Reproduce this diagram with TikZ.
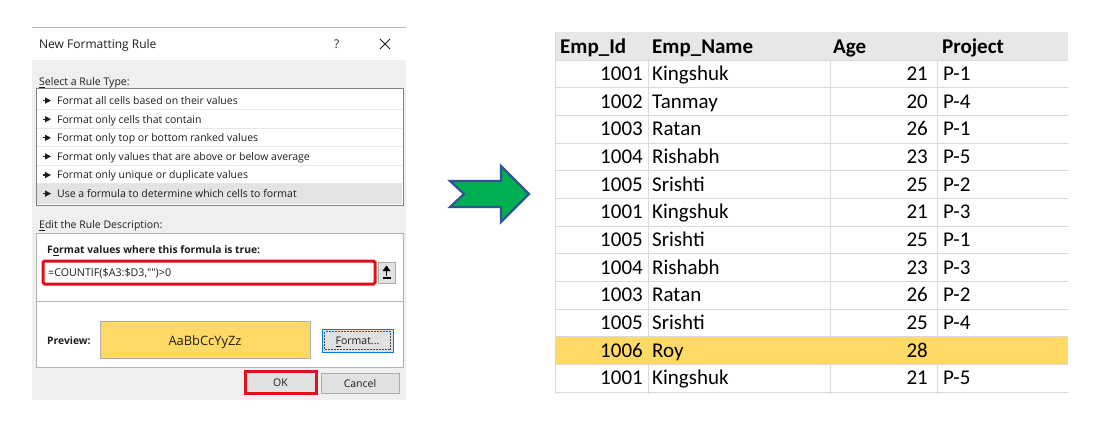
\documentclass[tikz,border=0pt]{standalone}
\usepackage{fontspec}
\setmainfont{Carlito}
\newfontfamily\dlg{Open Sans}
\definecolor{dlgbody}{HTML}{EFEFEF}
\definecolor{dlgline}{HTML}{B4B4B4}
\definecolor{listline}{HTML}{828282}
\definecolor{sepline}{HTML}{E6E6E6}
\definecolor{selgray}{HTML}{E3E3E6}
\definecolor{btngray}{HTML}{E1E1E1}
\definecolor{btnline}{HTML}{ADADAD}
\definecolor{hlred}{HTML}{E0101A}
\definecolor{focusblue}{HTML}{0078D7}
\definecolor{prevyellow}{HTML}{FFD966}
\definecolor{hdrgray}{HTML}{E7E7E7}
\definecolor{gridline}{HTML}{DADADA}
\definecolor{arrowgreen}{HTML}{00B050}
\definecolor{arrowblue}{HTML}{2F5597}
\definecolor{dtextc}{HTML}{1E1E1E}
\tikzset{
  dtxt/.style={font=\dlg\fontsize{10.5}{12}\selectfont, text=dtextc, inner sep=0pt, anchor=base west},
  dbold/.style={dtxt, font=\dlg\bfseries\fontsize{10.3}{12}\selectfont},
  ttl/.style={dtxt, font=\dlg\fontsize{12}{14}\selectfont},
  btn/.style={draw=btnline, fill=btngray, line width=0.8pt},
  tcell/.style={font=\fontsize{21}{24}\selectfont, inner sep=0pt, text=black},
  thead/.style={tcell, font=\bfseries\fontsize{21}{24}\selectfont, anchor=base west},
  grid/.style={draw=gridline, line width=1pt},
  bigarrow/.style={fill=arrowgreen, draw=arrowblue, line width=2.2pt, line join=miter},
  tri/.style={fill=dtextc}
}
\begin{document}
\begin{tikzpicture}[x=1pt,y=-1pt]
\useasboundingbox (0,0) rectangle (1099,447);
\fill[white] (0,0) rectangle (1099,447);

% ---------------- dialog ----------------
\fill[dlgbody] (32,60) rectangle (406,400);
\fill[white] (32,27) rectangle (406,60);
\draw[dlgline, line width=0.8pt] (32,27) -- (406,27);
\node[ttl] (title) at (39,48) {New Formatting Rule};
\node[ttl] (help) at (334,48) {?};
\draw[dtextc, line width=0.9pt] (380,39) -- (390,49) (380,49) -- (390,39);

\node[dtxt] (sel) at (39,85.5) {\underline{S}elect a Rule Type:};
\draw[draw=listline, fill=white, line width=0.8pt] (36,88) rectangle (403,205);
\fill[selgray] (37,184) rectangle (402,204);
\foreach \yy in {109.5,128,146.5,165,183.5}
  \draw[sepline, line width=0.8pt] (37,\yy) -- (402,\yy);
\foreach \t [count=\i] in {Format all cells based on their values,
  Format only cells that contain,
  Format only top or bottom ranked values,
  Format only values that are above or below average,
  Format only unique or duplicate values,
  Use a formula to determine which cells to format}{
  \pgfmathsetmacro\yc{82+18.6*\i}
  \node[dtxt] (item\i) at (57,\yc+3.8) {\t};
  \fill[tri] (42.5,\yc-0.6) rectangle (46,\yc+0.6);
  \fill[tri] (45,\yc-3.2) -- (51,\yc) -- (45,\yc+3.2) -- cycle;
}

\node[dtxt] (edit) at (39,228.5) {\underline{E}dit the Rule Description:};
\draw[draw=dlgline, fill=white, line width=0.8pt] (36,233) rectangle (403,367);
\draw[dlgline, line width=0.8pt] (36,301) -- (403,301);
\node[dbold] (fv) at (47,253.5) {F\underline{o}rmat values where this formula is true:};
\draw[hlred, line width=3pt, fill=white, rounded corners=1.5pt] (43,261) rectangle (375,284);
\node[dtxt, font=\dlg\fontsize{10.7}{12}\selectfont] (formula) at (48,276.5) {=COUNTIF(\$A3:\$D3,"{}")>0};
\draw[btn] (378,262) rectangle (395,283);
\fill[black] (382.5,271) -- (386.5,265.5) -- (390.5,271) -- cycle;
\fill[black] (385.6,270) rectangle (387.4,276);
\fill[black] (382.5,277) rectangle (390.5,278.6);

\node[dbold] (prevlbl) at (47,344.5) {Preview:};
\draw[draw=btnline, fill=prevyellow, line width=0.8pt] (100,321) rectangle (310,358);
\node[dtxt, anchor=base, font=\dlg\fontsize{12.9}{15}\selectfont] (sample) at (205,345.5) {AaBbCcYyZz};

\draw[fill=btngray, draw=focusblue, line width=1pt] (322,329) rectangle (393,352);
\draw[black!70, densely dotted, line width=0.5pt] (324.5,331.5) rectangle (390.5,349.5);
\node[dtxt, anchor=base] (fmt) at (357.5,344.5) {\underline{F}ormat...};

\draw[fill=btngray, draw=hlred, line width=3pt] (245,371) rectangle (316,393);
\node[dtxt, anchor=base] (ok) at (280.5,386) {OK};
\draw[btn] (321,373) rectangle (399,393);
\node[dtxt, anchor=base] (cancel) at (360,387) {Cancel};

% ---------------- arrow ----------------
\draw[bigarrow] (450,181) -- (501,181) -- (501,166) -- (529,194) -- (501,222)
  -- (501,207) -- (450,207) -- (464,194) -- cycle;

% ---------------- table ----------------
\fill[hdrgray] (555,32) rectangle (1068,60);
\node[thead] (h1) at (560,53) {Emp\_Id};
\node[thead] (h2) at (652,53) {Emp\_Name};
\node[thead] (h3) at (833,53) {Age};
\node[thead] (h4) at (942,53) {Project};

\foreach \k in {0,...,12}
  \draw[grid] (555,60+27.67*\k) -- (1068,60+27.67*\k);
\foreach \xx in {648,830,937}
  \draw[grid] (\xx,60) -- (\xx,394);
\draw[grid] (555,32) -- (555,394);
\fill[prevyellow] (555,336.7) rectangle (1068,364.3);

\foreach \id/\nm/\ag/\pr [count=\i] in {1001/Kingshuk/21/P-1, 1002/Tanmay/20/P-4,
  1003/Ratan/26/P-1, 1004/Rishabh/23/P-5, 1005/Srishti/25/P-2, 1001/Kingshuk/21/P-3,
  1005/Srishti/25/P-1, 1004/Rishabh/23/P-3, 1003/Ratan/26/P-2, 1005/Srishti/25/P-4,
  1006/Roy/28/{}, 1001/Kingshuk/21/P-5}{
  \pgfmathsetmacro\yb{60+27.67*(\i-1)+20.5}
  \node[tcell, anchor=base east] (id\i) at (643,\yb) {\id};
  \node[tcell, anchor=base west] (nm\i) at (652,\yb) {\nm};
  \node[tcell, anchor=base east] (ag\i) at (928,\yb) {\ag};
  \node[tcell, anchor=base west] (pr\i) at (943,\yb) {\pr};
}
\end{tikzpicture}
\end{document}
